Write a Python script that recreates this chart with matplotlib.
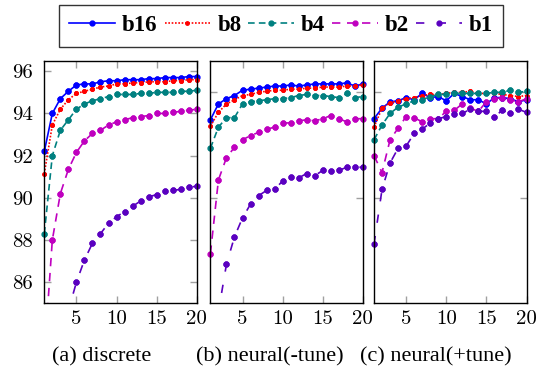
import matplotlib
matplotlib.use("Agg")
import matplotlib.pyplot as plt
import numpy as np

steps = list(range(1, 21))

series = ["b16", "b8", "b4", "b2", "b1"]
panel_titles = ["(a) discrete", "(b) neural(-tune)", "(c) neural(+tune)"]

# (a) discrete
a_b16 = [92.2, 94.0, 94.7, 95.05, 95.35, 95.4, 95.4, 95.5, 95.55, 95.55,
         95.6, 95.6, 95.6, 95.65, 95.65, 95.7, 95.7, 95.7, 95.75, 95.75]
a_b8 = [91.15, 93.45, 94.2, 94.65, 94.95, 95.05, 95.15, 95.25, 95.3, 95.4,
        95.4, 95.45, 95.45, 95.5, 95.5, 95.5, 95.55, 95.55, 95.6, 95.6]
a_b4 = [88.3, 92.0, 93.2, 93.7, 94.2, 94.45, 94.6, 94.7, 94.8, 94.9,
        94.9, 94.9, 94.95, 94.95, 95.0, 95.0, 95.0, 95.05, 95.05, 95.1]
a_b2 = [82.5, 88.0, 90.2, 91.35, 92.15, 92.7, 93.05, 93.2, 93.45, 93.6,
        93.7, 93.8, 93.85, 93.9, 94.0, 94.0, 94.05, 94.1, 94.15, 94.2]
a_b1 = [75.0, 79.0, 82.0, 84.65, 86.0, 87.05, 87.85, 88.3, 88.8, 89.1,
        89.35, 89.6, 89.85, 90.05, 90.15, 90.3, 90.35, 90.4, 90.5, 90.55]

# (b) neural(-tune)
b_b16 = [93.7, 94.45, 94.7, 94.85, 95.1, 95.15, 95.2, 95.25, 95.3, 95.3,
         95.35, 95.3, 95.35, 95.4, 95.4, 95.4, 95.4, 95.45, 95.3, 95.4]
b_b8 = [93.4, 94.05, 94.45, 94.65, 94.85, 94.9, 95.0, 95.05, 95.1, 95.1,
        95.15, 95.15, 95.2, 95.2, 95.25, 95.25, 95.25, 95.3, 95.3, 95.35]
b_b4 = [92.35, 93.35, 93.8, 93.8, 94.45, 94.55, 94.6, 94.65, 94.7, 94.7,
        94.75, 94.85, 94.9, 94.85, 94.85, 94.8, 94.75, 94.95, 94.75, 94.8]
b_b2 = [87.35, 90.85, 91.9, 92.4, 92.75, 92.95, 93.1, 93.25, 93.35, 93.55,
        93.55, 93.65, 93.7, 93.65, 93.75, 93.9, 93.75, 93.6, 93.75, 93.75]
b_b1 = [81.0, 84.6, 86.85, 88.15, 89.05, 89.7, 90.1, 90.35, 90.4, 90.8,
        91.0, 90.95, 91.15, 91.05, 91.3, 91.25, 91.3, 91.45, 91.45, 91.45]

# (c) neural(+tune)
c_b16 = [93.75, 94.25, 94.55, 94.6, 94.75, 94.65, 94.95, 94.75, 94.8, 94.6,
         94.95, 94.8, 94.65, 94.65, 94.45, 94.75, 94.75, 94.7, 94.55, 94.65]
c_b8 = [93.35, 94.25, 94.5, 94.6, 94.7, 94.75, 94.85, 94.9, 94.9, 94.95,
        95.0, 95.0, 95.05, 94.95, 94.95, 94.95, 94.9, 94.85, 94.8, 94.85]
c_b4 = [92.75, 93.45, 94.0, 94.3, 94.45, 94.6, 94.65, 94.8, 94.9, 94.9,
        94.95, 94.95, 94.95, 94.95, 94.95, 95.0, 95.0, 95.1, 95.0, 95.05]
c_b2 = [92.0, 91.2, 92.75, 93.3, 93.85, 93.8, 93.6, 93.75, 93.75, 94.1,
        94.15, 94.45, 94.25, 94.1, 94.55, 94.7, 94.75, 94.65, 94.55, 94.7]
c_b1 = [87.8, 90.4, 91.65, 92.35, 92.45, 93.05, 93.25, 93.55, 93.75, 93.85,
        93.95, 94.0, 94.2, 94.1, 94.1, 93.85, 94.15, 94.0, 94.2, 94.05]

panels = [
    [a_b16, a_b8, a_b4, a_b2, a_b1],
    [b_b16, b_b8, b_b4, b_b2, b_b1],
    [c_b16, c_b8, c_b4, c_b2, c_b1],
]

colors = ["#0000ff", "#ff0000", "#008080", "#bf00bf", "#5a00c0"]
styles = ["-", (0, (1, 1)), (0, (4, 2.5)), (0, (5, 4)), (0, (5, 8))]
msizes = [3.5, 2.5, 3.5, 3.5, 3.5]

ymin, ymax = 85, 96.5

fig = plt.figure(figsize=(5.51, 3.78), dpi=100)

lefts = [44.3, 210.4, 374.0]
W, H = 551.0, 378.0
axes = []
for i, left in enumerate(lefts):
    ax = fig.add_axes([left / W, 74.7 / H, 152.5 / W, 242.6 / H])
    for name, vals, c, ls, ms in zip(series, panels[i], colors, styles, msizes):
        ax.plot(steps, vals, color=c, linestyle=ls, lw=1.2,
                marker="o", markersize=ms, label=name)
        # markers on the frame edge are drawn whole, as in pgfplots
        v = np.array(vals)
        shown = np.ma.masked_where((v < ymin) | (v > ymax), v)
        ax.plot(steps, shown, color=c, linestyle="none", marker="o",
                markersize=ms, clip_on=False)
    ax.set_xlim(1, 20)
    ax.set_ylim(ymin, ymax)
    ax.set_xticks([5, 10, 15, 20])
    if i == 0:
        ax.set_yticks([86, 88, 90, 92, 94, 96])
    else:
        ax.set_yticks([90, 95])
        ax.set_yticklabels([])
    ax.tick_params(direction="in", length=5, width=1, color="#a0a0a0",
                   top=True, right=True, labelsize=15)
    ax.tick_params(axis="y", pad=8)
    ax.tick_params(axis="x", pad=5)
    for lab in ax.get_xticklabels() + ax.get_yticklabels():
        lab.set_fontfamily("cmr10")
    for sp in ax.spines.values():
        sp.set_linewidth(1.0)
    axes.append(ax)

caption_x = [102, 270, 436]
for t, cx in zip(panel_titles, caption_x):
    fig.text(cx / W, 1 - 357 / H, t, ha="center", va="center",
             fontsize=16, family="Liberation Serif")

handles, labels = axes[0].get_legend_handles_labels()
leg = fig.legend(handles, labels, loc="upper center", ncol=5,
                 bbox_to_anchor=(281 / W, 1 - 5 / H), borderaxespad=0,
                 prop={"family": "Liberation Serif", "weight": "bold", "size": 16.5},
                 frameon=True, fancybox=False, edgecolor="black",
                 handlelength=2.0, handletextpad=0.3, columnspacing=0.3,
                 borderpad=0.45)
leg.get_frame().set_linewidth(1.0)

fig.savefig("out.png", dpi=100)
